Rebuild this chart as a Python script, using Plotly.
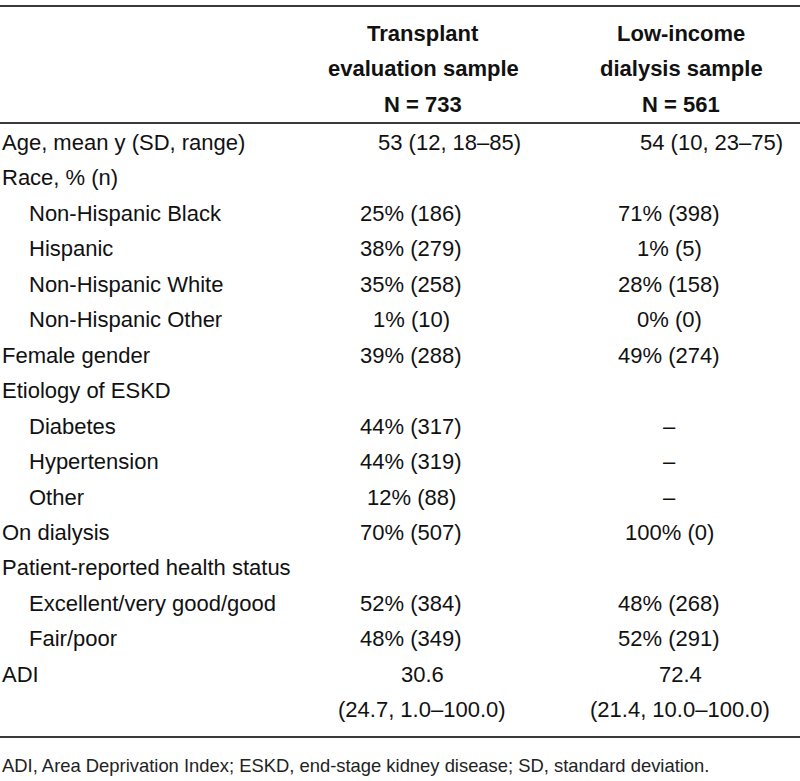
import plotly.graph_objects as go

W, H = 800, 781
FONT = "Liberation Sans Narrow, Arial Narrow, Liberation Sans, Arial, sans-serif"

header_col1 = ["Transplant", "evaluation sample", "N = 733"]
header_col2 = ["Low-income", "dialysis sample", "N = 561"]

row_labels = [
    "Age, mean y (SD, range)",
    "Race, % (n)",
    "Non-Hispanic Black",
    "Hispanic",
    "Non-Hispanic White",
    "Non-Hispanic Other",
    "Female gender",
    "Etiology of ESKD",
    "Diabetes",
    "Hypertension",
    "Other",
    "On dialysis",
    "Patient-reported health status",
    "Excellent/very good/good",
    "Fair/poor",
    "ADI",
    "",
]
row_indent = [0, 0, 1, 1, 1, 1, 0, 0, 1, 1, 1, 0, 0, 1, 1, 0, 0]

transplant_values = [
    "53 (12, 18–85)", "", "25% (186)", "38% (279)", "35% (258)", "1% (10)",
    "39% (288)", "", "44% (317)", "44% (319)", "12% (88)", "70% (507)", "",
    "52% (384)", "48% (349)", "30.6", "(24.7, 1.0–100.0)",
]
dialysis_values = [
    "54 (10, 23–75)", "", "71% (398)", "1% (5)", "28% (158)", "0% (0)",
    "49% (274)", "", "–", "–", "–", "100% (0)", "",
    "48% (268)", "52% (291)", "72.4", "(21.4, 10.0–100.0)",
]

footnote = "ADI, Area Deprivation Index; ESKD, end-stage kidney disease; SD, standard deviation."

# layout constants (pixel units on hidden axes)
first_row_y = 142.5
row_step = 35.45
header_y0 = 33
header_step = 35.5
col1_x = 411
col2_x = 669
hdr1_x = 423
hdr2_x = 681
# alignment tweaks of the source table (row index -> x shift per column)
col_shift = {0: (38, 42), 15: (11, 11), 16: (11, 11)}
indent_px = 27
fs = 22
fs_hdr = 22
fs_note = 18.4

fig = go.Figure()
fig.add_trace(go.Scatter(x=[0, W], y=[0, H], mode="markers",
                         marker=dict(opacity=0), hoverinfo="skip", showlegend=False))

anns = []
for i, (a, b) in enumerate(zip(header_col1, header_col2)):
    y = header_y0 + i * header_step
    for txt, x in ((a, hdr1_x), (b, hdr2_x)):
        anns.append(dict(x=x, y=y, text="<b>" + txt + "</b>", xanchor="center",
                         yanchor="middle", showarrow=False,
                         font=dict(family=FONT, size=fs_hdr, color="#111")))

for i, lab in enumerate(row_labels):
    y = first_row_y + i * row_step
    if lab:
        anns.append(dict(x=row_indent[i] * indent_px, y=y, text=lab, xanchor="left",
                         yanchor="middle", showarrow=False,
                         font=dict(family=FONT, size=fs, color="#111")))
    s1, s2 = col_shift.get(i, (0, 0))
    for txt, x in ((transplant_values[i], col1_x + s1), (dialysis_values[i], col2_x + s2)):
        if txt:
            anns.append(dict(x=x, y=y, text=txt, xanchor="center", yanchor="middle",
                             showarrow=False, font=dict(family=FONT, size=fs, color="#111")))

anns.append(dict(x=0, y=765, text=footnote, xanchor="left", yanchor="middle",
                 showarrow=False, font=dict(family=FONT, size=fs_note, color="#222")))

shapes = []
for y in (6, 123, 737):
    shapes.append(dict(type="line", x0=0, x1=W, y0=y, y1=y, xref="x", yref="y",
                       line=dict(color="#3a3a3a", width=2)))

fig.update_layout(
    width=W, height=H,
    margin=dict(l=0, r=0, t=0, b=0),
    paper_bgcolor="white", plot_bgcolor="white",
    xaxis=dict(range=[0, W], visible=False, fixedrange=True),
    yaxis=dict(range=[H, 0], visible=False, fixedrange=True),
    annotations=anns, shapes=shapes, showlegend=False,
)
fig.write_html("out.html", config={"displayModeBar": False},
               post_script="document.body.style.margin='0';")
